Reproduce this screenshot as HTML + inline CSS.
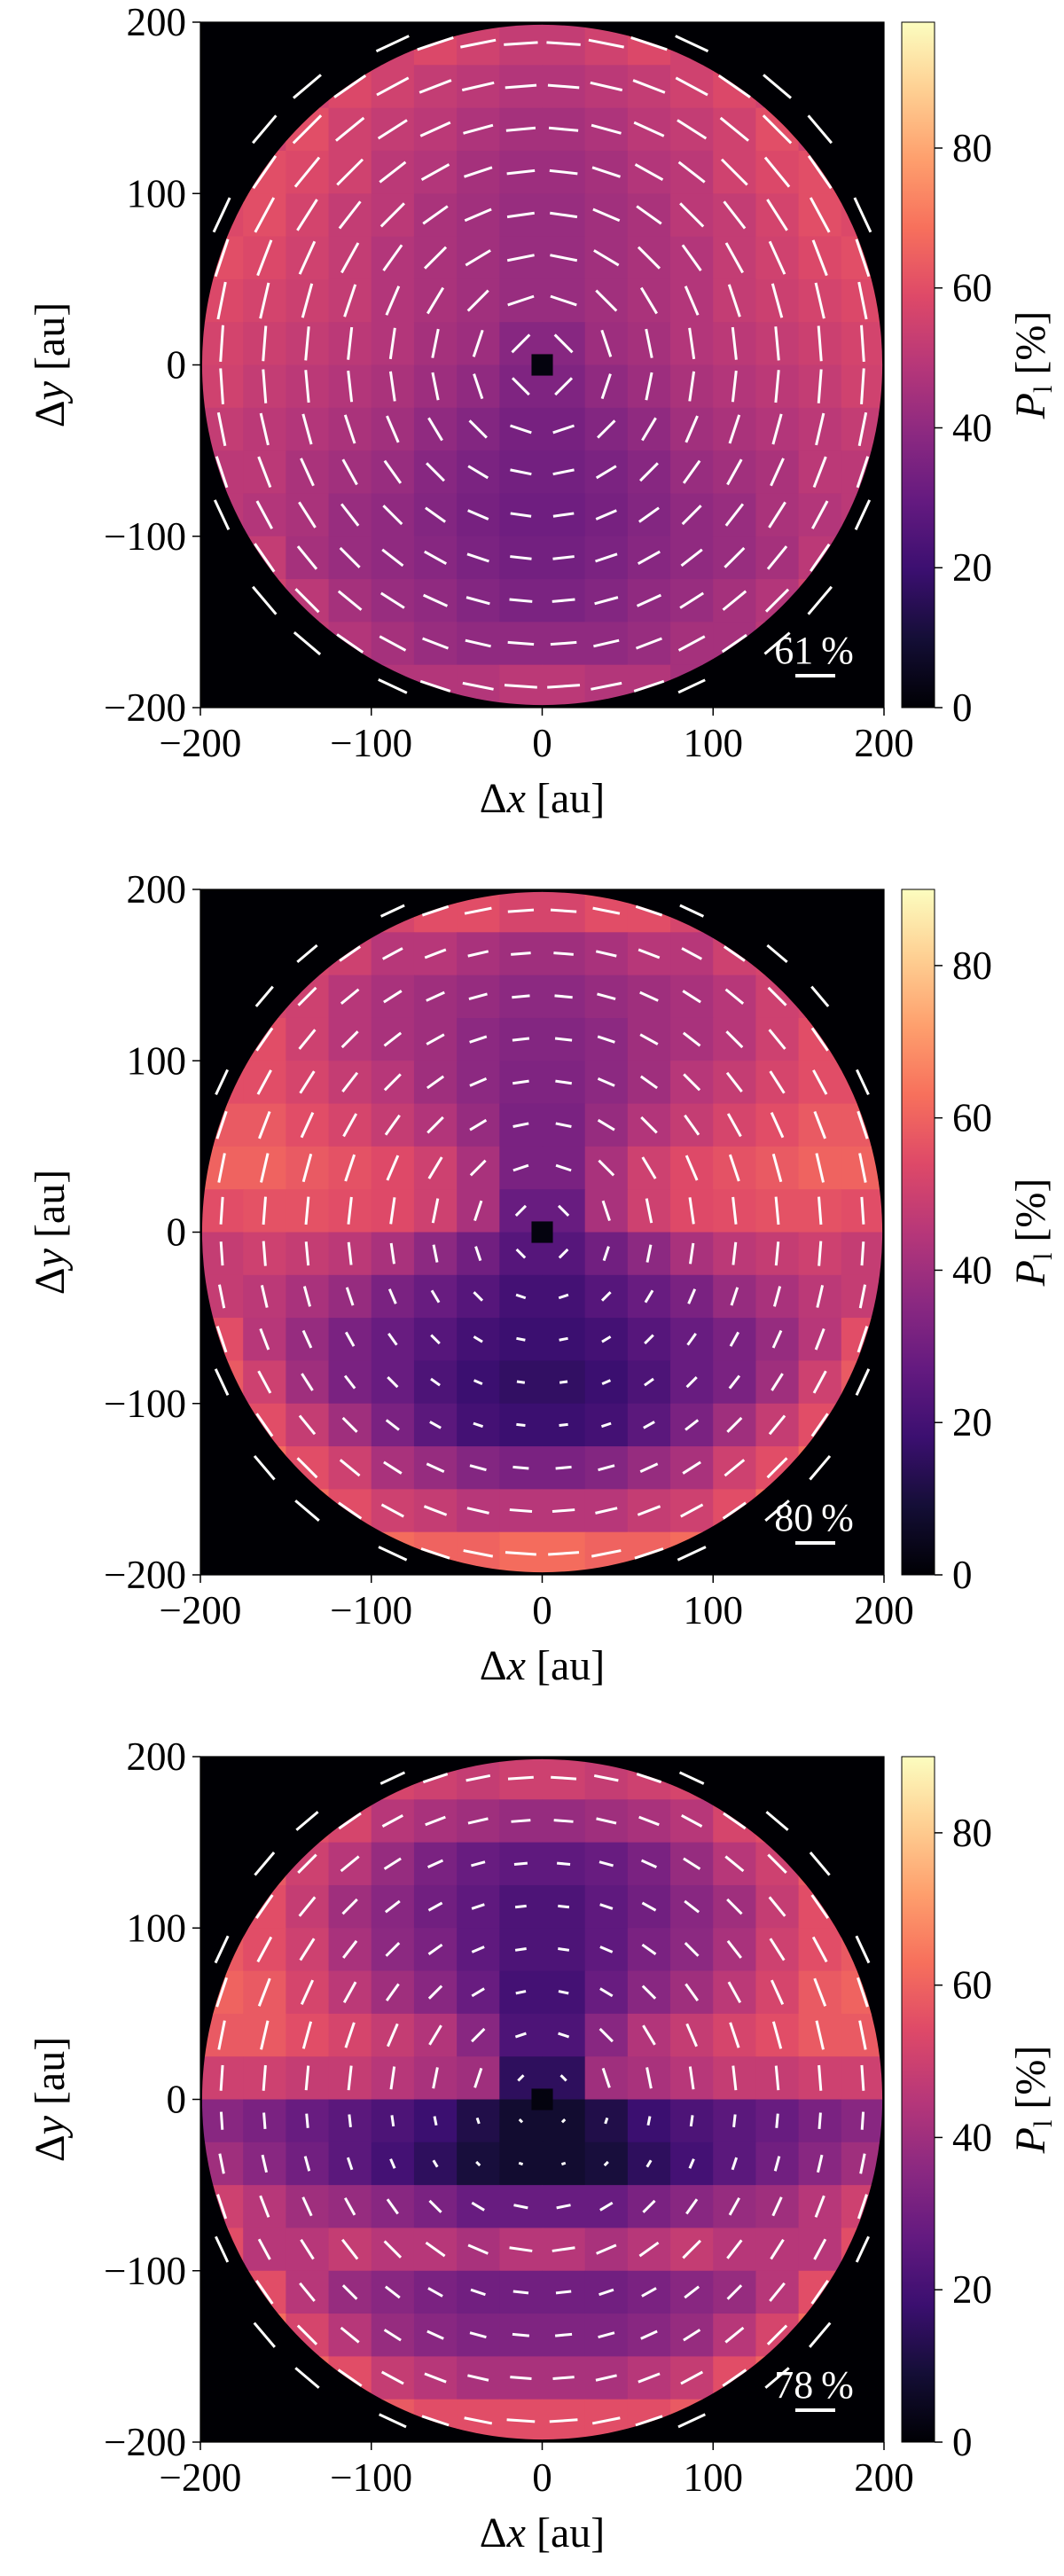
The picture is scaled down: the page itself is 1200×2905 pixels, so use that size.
<!DOCTYPE html>
<html><head><meta charset="utf-8">
<style>
html,body{margin:0;padding:0;background:#fff;}
svg{display:block;}
text{font-family:"Liberation Serif","DejaVu Serif",serif;fill:#000;}
</style></head>
<body>
<svg id="fig" xmlns="http://www.w3.org/2000/svg" width="1200" height="2905" viewBox="0 0 1200 2905">
<defs>
<linearGradient id="magma" x1="0" y1="1" x2="0" y2="0">
<stop offset="0" stop-color="#000004"/><stop offset="0.1" stop-color="#140e36"/><stop offset="0.2" stop-color="#3b0f70"/><stop offset="0.3" stop-color="#641a80"/><stop offset="0.4" stop-color="#8c2981"/><stop offset="0.5" stop-color="#b73779"/><stop offset="0.6" stop-color="#de4968"/><stop offset="0.7" stop-color="#f7705c"/><stop offset="0.8" stop-color="#fe9f6d"/><stop offset="0.9" stop-color="#fecf92"/><stop offset="1" stop-color="#fcfdbf"/>
</linearGradient>
</defs>
</svg>
<script>
// ---- data ----
const blockCenters = [-187.5,-162.5,-137.5,-112.5,-87.5,-62.5,-37.5,-12.5,12.5,37.5,62.5,87.5,112.5,137.5,162.5,187.5];
const axisTicks = [-200,-100,0,100,200];
const axisTickLabels = ["\u2212200","\u2212100","0","100","200"];
const cbarTicks = [0,20,40,60,80];
const cbarMax = [98,90,90];
const refPercent = [61,80,78];
const refLabels = ["61\u2009%","80\u2009%","78\u2009%"];
const coreValue = [2,2,2];
const P1 = [
[55,55,55,55,55,58,55,52,52,55,58,55,55,55,55,55],
[55,55,55,58,55,52,50,48,48,50,52,55,58,55,55,55],
[55,55,60,55,52,50,47,45,45,47,50,52,55,60,55,55],
[55,60,58,55,50,48,45,43,43,45,48,50,55,58,60,55],
[58,60,56,52,50,46,44,42,42,44,46,50,52,56,60,58],
[60,58,55,52,48,46,44,42,42,44,46,48,52,55,58,60],
[58,56,54,52,48,46,44,42,42,44,46,48,52,54,56,58],
[56,54,52,50,48,45,43,38,38,43,45,48,50,52,54,56],
[55,52,50,48,46,43,40,36,36,40,43,46,48,50,52,55],
[52,50,48,46,44,40,37,34,34,37,40,44,46,48,50,52],
[50,50,46,44,42,38,35,33,33,35,38,42,44,46,50,50],
[50,48,46,42,40,37,34,32,32,34,37,40,42,46,48,50],
[55,52,45,42,40,38,35,33,33,35,38,40,42,45,50,55],
[55,55,50,45,42,40,37,35,35,37,40,42,45,48,55,55],
[55,55,52,48,45,42,40,40,40,40,42,45,45,50,55,55],
[50,50,50,50,48,48,48,50,50,48,48,45,45,50,50,50]];
const P2 = [
[50,50,50,50,52,55,55,52,52,55,55,52,50,50,50,50],
[50,50,52,50,45,45,42,40,40,42,45,45,50,52,50,50],
[50,52,50,45,42,40,38,36,36,38,40,42,45,50,52,50],
[52,55,50,45,42,40,36,34,34,36,40,42,45,50,55,52],
[55,55,52,48,45,40,36,33,33,36,40,45,48,52,55,55],
[58,58,55,52,48,44,38,32,32,38,44,48,52,55,58,58],
[60,60,58,56,54,50,42,32,32,42,50,54,56,58,60,60],
[55,56,56,55,54,50,42,28,28,42,50,54,55,56,56,55],
[48,50,48,46,42,36,30,24,24,30,36,42,46,48,50,48],
[48,46,42,38,32,28,24,20,20,24,28,32,38,42,46,48],
[55,45,38,32,28,24,20,18,18,20,24,28,32,38,45,55],
[58,50,40,32,28,22,18,16,16,18,22,28,32,40,50,58],
[60,55,48,40,32,25,20,18,18,20,25,32,40,48,55,60],
[65,62,55,50,42,38,34,32,32,34,38,42,50,55,62,65],
[65,65,62,55,50,48,45,45,45,45,48,50,55,62,65,65],
[65,65,65,65,62,60,60,62,62,60,60,62,65,65,65,65]];
const P3 = [
[55,55,55,55,52,50,48,50,50,48,50,52,55,55,55,55],
[55,55,55,52,45,42,40,38,38,40,42,45,52,55,55,55],
[55,58,50,45,38,32,28,26,26,28,32,38,45,50,58,55],
[55,55,48,40,35,30,26,22,22,26,30,35,40,48,55,55],
[58,55,50,42,36,32,26,22,22,26,32,36,42,50,55,58],
[60,58,52,46,40,35,28,20,20,28,35,40,46,52,58,60],
[58,58,55,52,48,44,35,22,22,35,44,48,52,55,58,58],
[50,50,48,48,45,42,40,15,15,40,42,45,48,48,50,50],
[35,32,28,25,22,18,12,8,8,12,18,22,25,28,32,35],
[40,35,30,25,20,15,10,8,8,10,15,20,25,30,35,40],
[50,45,40,38,35,32,28,28,28,28,32,35,38,40,45,50],
[55,45,45,48,45,45,42,45,45,42,45,48,45,45,45,55],
[62,55,45,38,35,32,30,30,30,30,32,35,38,45,55,62],
[65,62,52,45,38,35,33,33,33,33,35,38,45,52,62,65],
[65,65,60,55,48,45,42,42,42,42,45,48,55,60,65,65],
[60,60,62,60,58,55,55,55,55,55,55,58,60,62,60,60]];
const panels = [P1,P2,P3];

// ---- layout ----
const NS="http://www.w3.org/2000/svg";
const svg=document.getElementById('fig');
const PX0=226, PW=771, PH=773, PTOPS=[25,1003,1981];
const CBX=1017, CBW=37;
const magmaStops=[[0,0,0,4],[0.1,20,14,54],[0.2,59,15,112],[0.3,100,26,128],[0.4,140,41,129],[0.5,183,55,121],[0.6,222,73,104],[0.7,247,112,92],[0.8,254,159,109],[0.9,254,207,146],[1,252,253,191]];
function magma(t){t=Math.max(0,Math.min(1,t));for(let i=1;i<magmaStops.length;i++){const a=magmaStops[i-1],b=magmaStops[i];if(t<=b[0]){const f=(t-a[0])/(b[0]-a[0]);return 'rgb('+[1,2,3].map(k=>Math.round(a[k]+f*(b[k]-a[k]))).join(',')+')';}}return 'rgb(252,253,191)';}
function mk(tag,attrs,parent){const e=document.createElementNS(NS,tag);for(const k in attrs)e.setAttribute(k,attrs[k]);(parent||svg).appendChild(e);return e;}

panels.forEach((P,k)=>{
  const top=PTOPS[k];
  const xs=v=>PX0+(v+200)/400*PW;
  const ys=v=>top+(200-v)/400*PH;
  const cs=v=>top+PH-v/cbarMax[k]*PH;
  const g=mk('g',{});
  
  
  const bg=mk('rect',{x:PX0,y:top,width:PW,height:PH,fill:'#000004'},g);
  
  
  const cp=mk('clipPath',{id:'disk'+k},g);
  mk('circle',{cx:xs(0),cy:ys(0),r:199/400*PW},cp);
  const hm=mk('g',{'clip-path':'url(#disk'+k+')'},g);
  
  
  const bw=25/400*PW, bh=25/400*PH;
  P.forEach((row,j)=>row.forEach((v,i)=>{
    const r=mk('rect',{x:xs(blockCenters[i]-12.5),y:ys(blockCenters[j]*-1+12.5),width:bw+0.6,height:bh+0.6,fill:magma(v/cbarMax[k])},hm);
    
    
  }));
  const core=mk('rect',{x:xs(-6.25),y:ys(6.25),width:xs(6.25)-xs(-6.25),height:ys(-6.25)-ys(6.25),fill:magma(coreValue[k]/cbarMax[k])},g);
  
  
  // vectors
  const vg=mk('g',{stroke:'#fff','stroke-width':3,'stroke-linecap':'butt'},g);
  
  
  P.forEach((row,j)=>row.forEach((v,i)=>{
    const ax=blockCenters[i], ay=-blockCenters[j];
    const rr=Math.hypot(ax,ay); if(rr>215) return;
    const L=v/refPercent[k]*45/2;
    const tx=ay/rr, ty=ax/rr;
    const cx=xs(ax), cy=ys(ay);
    const ln=mk('line',{x1:cx-tx*L,y1:cy-ty*L,x2:cx+tx*L,y2:cy+ty*L},vg);
    
    
  }));
  // reference label
  const rl=mk('text',{x:918,y:top+723,'text-anchor':'middle','font-size':44,fill:'#fff',style:'fill:#fff'},g);
  rl.textContent=refLabels[k];
  
  
  const rb=mk('line',{x1:897,x2:942,y1:top+737,y2:top+737,stroke:'#fff','stroke-width':4},g);
  
  
  // frame
  const fr=mk('rect',{x:PX0,y:top,width:PW,height:PH,fill:'none',stroke:'#000','stroke-width':1.2},g);
  
  
  // axis ticks
  axisTicks.forEach((t,ti)=>{
    const yy=ys(t);
    const tk=mk('line',{x1:PX0-9,x2:PX0,y1:yy,y2:yy,stroke:'#000','stroke-width':1.5},g);
    
    
    const tl=mk('text',{x:PX0-16,y:yy+15,'text-anchor':'end','font-size':45},g);
    tl.textContent=axisTickLabels[ti];
    
    
    const xx=xs(t);
    const tk2=mk('line',{x1:xx,x2:xx,y1:top+PH,y2:top+PH+9,stroke:'#000','stroke-width':1.5},g);
    
    
    const tl2=mk('text',{x:xx,y:top+PH+55,'text-anchor':'middle','font-size':45},g);
    tl2.textContent=axisTickLabels[ti];
    
    
  });
  const xl=mk('text',{x:PX0+PW/2,y:top+PH+118,'text-anchor':'middle','font-size':48},g);
  xl.innerHTML='\u0394<tspan font-style="italic">x</tspan> [au]';
  
  
  const yl=mk('text',{x:0,y:0,'text-anchor':'middle','font-size':48,transform:'translate(72,'+(top+PH/2)+') rotate(-90)'},g);
  yl.innerHTML='\u0394<tspan font-style="italic">y</tspan> [au]';
  
  
  // colorbar
  const cb=mk('rect',{x:CBX,y:top,width:CBW,height:PH,fill:'url(#magma)',stroke:'#000','stroke-width':1},g);
  
  
  cbarTicks.forEach(t=>{
    const yy=cs(t);
    const tk=mk('line',{x1:CBX+CBW,x2:CBX+CBW+9,y1:yy,y2:yy,stroke:'#000','stroke-width':1.5},g);
    
    
    const tl=mk('text',{x:CBX+CBW+20,y:yy+15,'font-size':45},g);
    tl.textContent=String(t);
    
    
  });
  const cl=mk('text',{x:0,y:0,'text-anchor':'middle','font-size':48,transform:'translate(1178,'+(top+PH/2)+') rotate(-90)'},g);
  cl.innerHTML='<tspan font-style="italic">P</tspan><tspan font-size="30" dy="8">l</tspan><tspan dy="-8"> [%]</tspan>';
  
  
});
</script>
</body></html>
